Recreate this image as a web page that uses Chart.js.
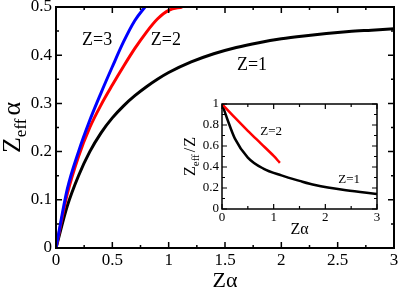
<!DOCTYPE html>
<html>
<head>
<meta charset="utf-8">
<script src="https://cdn.jsdelivr.net/npm/chart.js@4.4.1/dist/chart.umd.min.js"></script>
<style>
  html, body { margin: 0; padding: 0; background: #fff; }
  #wrap { position: relative; width: 399px; height: 290px; }
  #main { position: absolute; left: 0; top: 0; }
  #inset { position: absolute; left: 170px; top: 95px; }
</style>
</head>
<body>
<div id="wrap">
  <canvas id="main" width="399" height="290"></canvas>
  <canvas id="inset" width="215" height="145"></canvas>
</div>
<script>
// main panel: Z_eff * alpha against Z * alpha
const za1 = [0, 0.1, 0.2, 0.3, 0.4, 0.5, 0.6, 0.7, 0.8, 0.9, 1.0, 1.2, 1.4, 1.6, 1.8, 2.0, 2.2, 2.4, 2.6, 2.8, 3.0];
const eff1 = [0, 0.087, 0.15, 0.2, 0.239, 0.27, 0.295, 0.316, 0.334, 0.35, 0.364, 0.386, 0.403, 0.416, 0.426, 0.434, 0.44, 0.445, 0.449, 0.452, 0.455];
const za2 = [0, 0.1, 0.2, 0.3, 0.4, 0.5, 0.6, 0.7, 0.8, 0.9, 1.0, 1.12];
const eff2 = [0, 0.112, 0.19, 0.25, 0.297, 0.338, 0.377, 0.414, 0.447, 0.475, 0.493, 0.5];
const za3 = [0, 0.1, 0.2, 0.3, 0.4, 0.5, 0.6, 0.7, 0.79];
const eff3 = [0, 0.122, 0.2, 0.265, 0.322, 0.376, 0.428, 0.472, 0.5];

// inset: Z_eff / Z against Z * alpha
const insZa1 = [0, 0.1, 0.25, 0.5, 0.8, 1.15, 1.5, 1.8, 2.4, 3.0];
const insRatio1 = [1, 0.86, 0.67, 0.49, 0.385, 0.32, 0.268, 0.228, 0.178, 0.143];
const insZa2 = [0, 0.25, 0.5, 0.75, 1.0, 1.12];
const insRatio2 = [1, 0.87, 0.745, 0.625, 0.505, 0.44];

const mainXTicks = [0, 0.5, 1, 1.5, 2, 2.5, 3];
const mainXLabels = ['0', '0.5', '1', '1.5', '2', '2.5', '3'];
const mainYTicks = [0, 0.1, 0.2, 0.3, 0.4, 0.5];
const mainYLabels = ['0', '0.1', '0.2', '0.3', '0.4', '0.5'];
const insXTicks = [0, 1, 2, 3];
const insXLabels = ['0', '1', '2', '3'];
const insYTicks = [0, 0.2, 0.4, 0.6, 0.8, 1];
const insYLabels = ['0', '0.2', '0.4', '0.6', '0.8', '1'];

const SERIF = '"Liberation Serif", serif';

function pts(xs, ys) {
  return xs.map((x, i) => ({ x: x, y: ys[i] }));
}

function fixed(w, h) {
  return function (scale) {
    if (w != null) scale.width = w;
    if (h != null) scale.height = h;
    scale.paddingTop = 0;
    scale.paddingBottom = 0;
    scale.paddingLeft = 0;
    scale.paddingRight = 0;
  };
}

function axis(min, max, values, labels, size, pad, fit) {
  return {
    type: 'linear',
    min: min,
    max: max,
    afterBuildTicks: (s) => { s.ticks = values.map((v) => ({ value: v })); },
    afterFit: fit,
    grid: { display: false, drawTicks: false },
    border: { display: false },
    ticks: {
      autoSkip: false,
      maxRotation: 0,
      padding: pad,
      color: '#000',
      font: { family: SERIF, size: size },
      callback: (v, i) => labels[i]
    }
  };
}

// box and inward tick marks on all four sides
const frameTicks = {
  id: 'frameTicks',
  afterDatasetsDraw(chart, args, o) {
    const ctx = chart.ctx;
    const a = chart.chartArea;
    const x = chart.scales.x;
    const y = chart.scales.y;
    ctx.save();
    ctx.strokeStyle = '#000';
    ctx.lineWidth = o.tickWidth;
    ctx.beginPath();
    const marks = (scale, minor) => {
      const out = [];
      const n = Math.round((scale.max - scale.min) / minor);
      for (let i = 0; i <= n; i++) {
        const v = scale.min + i * minor;
        const major = scale.ticks.some((t) => Math.abs(t.value - v) < 1e-6);
        out.push({ v: v, len: major ? o.major : o.minor });
      }
      return out;
    };
    marks(x, o.xMinor).forEach((m) => {
      const p = x.getPixelForValue(m.v);
      ctx.moveTo(p, a.bottom); ctx.lineTo(p, a.bottom - m.len);
      ctx.moveTo(p, a.top); ctx.lineTo(p, a.top + m.len);
    });
    marks(y, o.yMinor).forEach((m) => {
      const p = y.getPixelForValue(m.v);
      ctx.moveTo(a.left, p); ctx.lineTo(a.left + m.len, p);
      ctx.moveTo(a.right, p); ctx.lineTo(a.right - m.len, p);
    });
    ctx.stroke();
    ctx.lineWidth = o.frameWidth;
    ctx.strokeRect(a.left, a.top, a.right - a.left, a.bottom - a.top);
    ctx.restore();
  }
};

function drawRuns(ctx, cx, cy, runs, vertical) {
  ctx.save();
  ctx.translate(cx, cy);
  if (vertical) ctx.rotate(-Math.PI / 2);
  let total = 0;
  runs.forEach((r) => {
    ctx.font = r.size + 'px ' + SERIF;
    r.w = ctx.measureText(r.t).width + (r.gap || 0);
    total += r.w;
  });
  let pos = -total / 2;
  ctx.fillStyle = '#000';
  ctx.textBaseline = 'alphabetic';
  ctx.textAlign = 'left';
  runs.forEach((r) => {
    ctx.font = r.size + 'px ' + SERIF;
    ctx.fillText(r.t, pos, r.dy || 0);
    pos += r.w;
  });
  ctx.restore();
}

// curve labels (data coordinates) and axis titles
const textMarks = {
  id: 'textMarks',
  afterDraw(chart, args, o) {
    const ctx = chart.ctx;
    const x = chart.scales.x;
    const y = chart.scales.y;
    ctx.save();
    ctx.fillStyle = '#000';
    ctx.textAlign = 'center';
    ctx.textBaseline = 'middle';
    o.notes.forEach((n) => {
      ctx.font = o.noteSize + 'px ' + SERIF;
      ctx.fillText(n.text, x.getPixelForValue(n.x), y.getPixelForValue(n.y));
    });
    ctx.restore();
    const a = chart.chartArea;
    drawRuns(ctx, (a.left + a.right) / 2, o.xTitleBase, o.xTitle, false);
    drawRuns(ctx, o.yTitleBase, (a.top + a.bottom) / 2, o.yTitle, true);
  }
};

new Chart(document.getElementById('main'), {
  type: 'line',
  data: {
    datasets: [
      { label: 'Z=3', data: pts(za3, eff3), borderColor: '#0000ff', borderWidth: 3 },
      { label: 'Z=2', data: pts(za2, eff2), borderColor: '#ff0000', borderWidth: 3 },
      { label: 'Z=1', data: pts(za1, eff1), borderColor: '#000000', borderWidth: 3 }
    ]
  },
  options: {
    responsive: false,
    animation: false,
    events: [],
    elements: {
      point: { radius: 0 },
      line: { cubicInterpolationMode: 'monotone', fill: false }
    },
    layout: { padding: { left: 0, right: 5, top: 7, bottom: 0 } },
    scales: {
      x: axis(0, 3, mainXTicks, mainXLabels, 17, 2, fixed(null, 42)),
      y: axis(0, 0.5, mainYTicks, mainYLabels, 17, 4, fixed(56, null))
    },
    plugins: {
      legend: { display: false },
      tooltip: { enabled: false },
      frameTicks: { major: 6, minor: 3, xMinor: 0.25, yMinor: 0.05, tickWidth: 1.5, frameWidth: 2 },
      textMarks: {
        noteSize: 18,
        notes: [
          { text: 'Z=3', x: 0.365, y: 0.43 },
          { text: 'Z=2', x: 0.975, y: 0.43 },
          { text: 'Z=1', x: 1.74, y: 0.38 }
        ],
        xTitleBase: 287,
        xTitle: [{ t: 'Z', size: 22 }, { t: 'α', size: 22 }],
        yTitleBase: 20,
        yTitle: [{ t: 'Z', size: 26 }, { t: 'eff', size: 17, dy: 6, gap: 3 }, { t: 'α', size: 26 }]
      }
    }
  },
  plugins: [frameTicks, textMarks]
});

new Chart(document.getElementById('inset'), {
  type: 'line',
  data: {
    datasets: [
      { label: 'Z=2', data: pts(insZa2, insRatio2), borderColor: '#ff0000', borderWidth: 2.5 },
      { label: 'Z=1', data: pts(insZa1, insRatio1), borderColor: '#000000', borderWidth: 2.5 }
    ]
  },
  options: {
    responsive: false,
    animation: false,
    events: [],
    elements: {
      point: { radius: 0 },
      line: { cubicInterpolationMode: 'monotone', fill: false }
    },
    layout: { padding: { left: 0, right: 8, top: 9, bottom: 0 } },
    scales: {
      x: axis(0, 3, insXTicks, insXLabels, 13, 1, fixed(null, 31)),
      y: axis(0, 1, insYTicks, insYLabels, 13, 3, fixed(52, null))
    },
    plugins: {
      legend: { display: false },
      tooltip: { enabled: false },
      frameTicks: { major: 5, minor: 3, xMinor: 0.5, yMinor: 0.1, tickWidth: 1.2, frameWidth: 1.5 },
      textMarks: {
        noteSize: 13,
        notes: [
          { text: 'Z=2', x: 0.95, y: 0.733 },
          { text: 'Z=1', x: 2.46, y: 0.276 }
        ],
        xTitleBase: 139,
        xTitle: [{ t: 'Z', size: 16 }, { t: 'α', size: 16 }],
        yTitleBase: 25,
        yTitle: [{ t: 'Z', size: 16 }, { t: 'eff', size: 11, dy: 4, gap: 2 }, { t: '/', size: 16, gap: 1 }, { t: 'Z', size: 16 }]
      }
    }
  },
  plugins: [frameTicks, textMarks]
});
</script>
</body>
</html>
